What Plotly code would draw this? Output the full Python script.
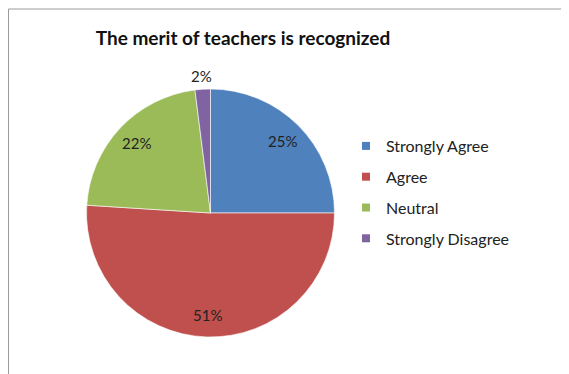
import math
import plotly.graph_objects as go

# Daten
labels = ["Strongly Agree", "Agree", "Neutral", "Strongly Disagree"]
values = [25, 51, 22, 2]
colors = ["#4F81BD", "#C0504D", "#9BBB59", "#8064A2"]
title = "The merit of teachers is recognized"

# Seite hat 8px Rand, daher Figur etwas kleiner
W, H = 561, 366
font = "Lato, Carlito, Calibri, sans-serif"

cx, cy, r = 202.5, 205, 124   # Mittelpunkt und Radius in Pixeln

fig = go.Figure()

# Kreisdiagramm (Start oben, im Uhrzeigersinn)
fig.add_trace(go.Pie(
    labels=labels,
    values=values,
    sort=False,
    direction="clockwise",
    rotation=0,
    marker=dict(colors=colors, line=dict(color="white", width=0.6)),
    textinfo="none",
    showlegend=False,
    domain=dict(x=[(cx - r) / W, (cx + r) / W], y=[(H - cy - r) / H, (H - cy + r) / H]),
    hoverinfo="label+percent",
))

# Prozentbeschriftungen entlang der Winkelhalbierenden
total = sum(values)
annotations = []
cum = 0
for v in values:
    mid = (cum + v / 2) / total * 2 * math.pi
    cum += v
    frac = 0.82 if v / total > 0.05 else 1.11
    px_ = cx + frac * r * math.sin(mid)
    py_ = cy - frac * r * math.cos(mid)
    annotations.append(dict(
        x=px_ / W, y=(H - py_) / H, xref="paper", yref="paper",
        xanchor="center", yanchor="middle",
        text=f"{round(v / total * 100)}%", showarrow=False,
        font=dict(family=font, size=15, color="#222222"),
    ))

# Legende mit eigenen Einträgen (für größeren Zeilenabstand)
for lab, col in zip(labels, colors):
    fig.add_trace(go.Scatter(
        x=[None], y=[None], mode="markers", name=lab, legendgroup=lab,
        marker=dict(symbol="square", size=8, color=col),
    ))

fig.update_layout(
    width=W, height=H,
    margin=dict(l=0, r=0, t=0, b=0),
    paper_bgcolor="white",
    plot_bgcolor="white",
    xaxis=dict(visible=False),
    yaxis=dict(visible=False),
    title=dict(text="<b>" + title + "</b>", x=235 / W, xanchor="center",
               y=(H - 30) / H, yanchor="middle",
               font=dict(family=font, size=19, color="#111111")),
    legend=dict(x=338 / W, xanchor="left", y=(H - 184.5) / H, yanchor="middle",
                tracegroupgap=7,
                font=dict(family=font, size=16, color="#222222")),
    annotations=annotations,
    shapes=[dict(type="rect", xref="paper", yref="paper",
                 x0=0.5 / W, x1=1.02, y0=-0.02, y1=(H - 1) / H,
                 line=dict(color="#9a9a9a", width=1))],
)

fig.write_html("out.html")
